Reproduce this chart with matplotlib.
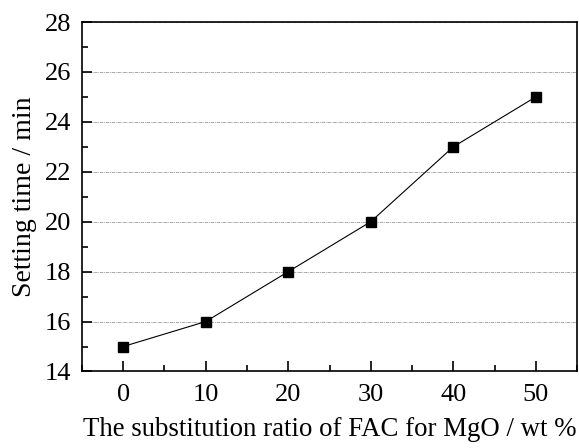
import matplotlib
matplotlib.use("Agg")
import matplotlib.pyplot as plt
from matplotlib.ticker import MultipleLocator

ratio = [0, 10, 20, 30, 40, 50]
setting_time = [15, 16, 18, 20, 23, 25]

plt.rcParams['font.family'] = ['Liberation Serif', 'DejaVu Serif']
plt.rcParams['mathtext.fontset'] = 'stix'

fig = plt.figure(figsize=(5.79, 4.48), dpi=100)
ax = fig.add_axes([0.1416, 0.1708, 0.855, 0.780])

ax.plot(ratio, setting_time, color='black', lw=0.8, marker='s', markersize=7,
        markerfacecolor='black', markeredgecolor='black', zorder=3)

ax.set_xlim(-5, 55)
ax.set_ylim(14, 28)
ax.xaxis.set_major_locator(MultipleLocator(10))
ax.xaxis.set_minor_locator(MultipleLocator(5))
ax.yaxis.set_major_locator(MultipleLocator(2))
ax.yaxis.set_minor_locator(MultipleLocator(1))

ax.grid(axis='y', which='major', color='#999999', linestyle=(0, (4, 1, 1, 1)), linewidth=0.6)
ax.set_axisbelow(True)

for s in ax.spines.values():
    s.set_linewidth(1.2)

ax.tick_params(axis='both', which='major', direction='in', length=7, width=1.2,
               labelsize=19, top=False, right=False)
ax.tick_params(axis='both', which='minor', direction='in', length=4, width=1.2,
               top=False, right=False)
ax.tick_params(axis='x', pad=9)
ax.tick_params(axis='y', pad=8)

ax.set_xlabel('The substitution ratio of FAC for MgO / wt %', fontsize=19.3, labelpad=8)
ax.set_ylabel('Setting time / min', fontsize=20, labelpad=5)

fig.savefig('out.png', dpi=100)
